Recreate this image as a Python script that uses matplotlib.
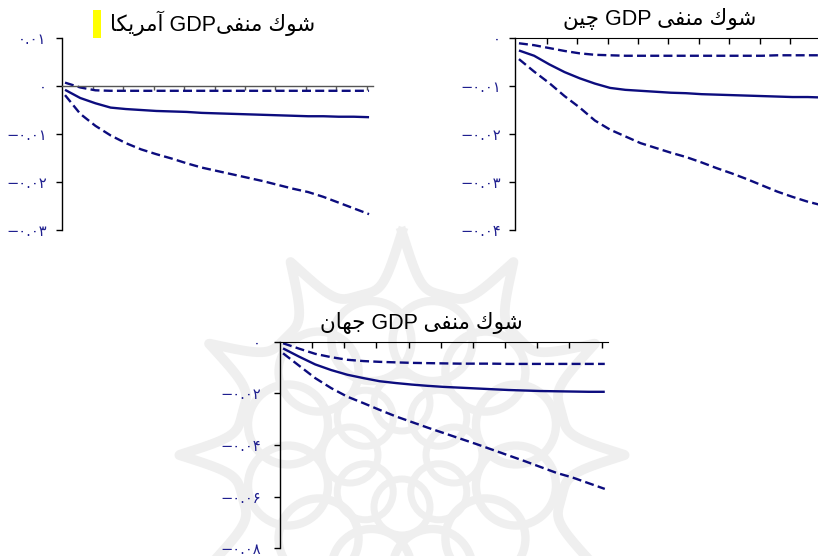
import numpy as np
import matplotlib
matplotlib.use("Agg")
import matplotlib.pyplot as plt
from matplotlib.patches import Rectangle, Circle

# ---------------- data ----------------
periods = list(range(1, 22))

us_upper = [0.0007, -0.0003, -0.0009, -0.0010, -0.0010, -0.0010, -0.0010, -0.0010, -0.0010, -0.0010,
            -0.0010, -0.0010, -0.0010, -0.0010, -0.0010, -0.0010, -0.0010, -0.0010, -0.0010, -0.0010, -0.0010]
us_mid = [-0.0008, -0.0025, -0.0036, -0.0045, -0.0048, -0.0050, -0.0052, -0.0053, -0.0054, -0.0056,
          -0.0057, -0.0058, -0.0059, -0.0060, -0.0061, -0.0062, -0.0063, -0.0063, -0.0064, -0.0064, -0.0065]
us_lower = [-0.0019, -0.0058, -0.0083, -0.0103, -0.0119, -0.0132, -0.0142, -0.0151, -0.0161, -0.0170,
            -0.0177, -0.0184, -0.0191, -0.0198, -0.0206, -0.0214, -0.0221, -0.0231, -0.0243, -0.0255, -0.0267]

cn_upper = [-0.0011, -0.0015, -0.0021, -0.0027, -0.0032, -0.0035, -0.0036, -0.0037, -0.0037, -0.0037,
            -0.0037, -0.0037, -0.0037, -0.0037, -0.0037, -0.0037, -0.0037, -0.0036, -0.0036, -0.0036, -0.0036]
cn_mid = [-0.0026, -0.0037, -0.0055, -0.0071, -0.0084, -0.0095, -0.0104, -0.0108, -0.0110, -0.0112,
          -0.0114, -0.0115, -0.0117, -0.0118, -0.0119, -0.0120, -0.0121, -0.0122, -0.0123, -0.0123, -0.0124]
cn_lower = [-0.0044, -0.0070, -0.0094, -0.0121, -0.0145, -0.0172, -0.0191, -0.0205, -0.0219, -0.0229,
            -0.0239, -0.0248, -0.0259, -0.0271, -0.0282, -0.0294, -0.0307, -0.0320, -0.0331, -0.0341, -0.0349]

wd_upper = [-0.0006, -0.0027, -0.0047, -0.0060, -0.0070, -0.0075, -0.0078, -0.0080, -0.0082, -0.0083,
            -0.0084, -0.0085, -0.0085, -0.0085, -0.0086, -0.0086, -0.0086, -0.0086, -0.0086, -0.0086, -0.0086]
wd_mid = [-0.0026, -0.0058, -0.0088, -0.0110, -0.0128, -0.0141, -0.0153, -0.0160, -0.0166, -0.0171,
          -0.0175, -0.0178, -0.0181, -0.0184, -0.0187, -0.0189, -0.0191, -0.0192, -0.0193, -0.0194, -0.0194]
wd_lower = [-0.0045, -0.0093, -0.0141, -0.0180, -0.0213, -0.0238, -0.0264, -0.0289, -0.0311, -0.0333,
            -0.0354, -0.0375, -0.0396, -0.0418, -0.0440, -0.0462, -0.0485, -0.0508, -0.0526, -0.0548, -0.0570]

# Persian tick labels
us_ticks = [0.01, 0.0, -0.01, -0.02, -0.03]
us_labels = ["۰.۰۱", "۰", "−۰.۰۱", "−۰.۰۲", "−۰.۰۳"]
cn_ticks = [0.0, -0.01, -0.02, -0.03, -0.04]
cn_labels = ["۰", "−۰.۰۱", "−۰.۰۲", "−۰.۰۳", "−۰.۰۴"]
wd_ticks = [0.0, -0.02, -0.04, -0.06, -0.08]
wd_labels = ["۰", "−۰.۰۲", "−۰.۰۴", "−۰.۰۶", "−۰.۰۸"]

# Titles in visual order with Arabic presentation forms (no shaping engine available)
t_shok = "\uFED9\uFEEE\uFEB7"            # شوک
t_manfi = "\uFEF0\uFED4\uFEE8\uFEE3"     # منفی
t_amrika = "\uFE8E\uFEDC\uFEF3\uFEAE\uFEE3\uFE81"  # آمریکا
t_chin = "\uFEE6\uFEF4\uFB7C"            # چین
t_jahan = "\uFEE5\uFE8E\uFEEC\uFE9F"     # جهان
us_title = t_amrika + " GDP" + t_manfi + " " + t_shok
cn_title = t_chin + " GDP " + t_manfi + " " + t_shok
wd_title = t_jahan + " GDP " + t_manfi + " " + t_shok

# ---------------- figure ----------------
W, H = 818, 556
fig = plt.figure(figsize=(W / 100, H / 100), dpi=100)
fig.patch.set_facecolor("white")

NAVY = "#0c0c7e"
LBL = "#1f1f8f"

# faint background ornament (watermark)
bg = fig.add_axes([0, 0, 1, 1], zorder=-5)
bg.set_xlim(0, W)
bg.set_ylim(H, 0)
bg.axis("off")
cx, cy = 402, 455
wm = "#efefef"
ang = np.linspace(0, 2 * np.pi, 3000)
r_star = 165 + 58 * (1 - np.abs(np.sin(ang * 6))) ** 2
bg.plot(cx + r_star * np.cos(ang - np.pi / 2), cy + r_star * np.sin(ang - np.pi / 2), color=wm, lw=7)
for k in range(12):
    a = 2 * np.pi * k / 12 + np.pi / 12
    bg.add_patch(Circle((cx + 118 * np.cos(a), cy + 118 * np.sin(a)), 40, fill=False, ec=wm, lw=6))
for k in range(8):
    a = 2 * np.pi * k / 8
    bg.add_patch(Circle((cx + 52 * np.cos(a), cy + 52 * np.sin(a)), 28, fill=False, ec=wm, lw=5))


def px_axes(x0, x1, y0, y1):
    return fig.add_axes([x0 / W, 1 - y1 / H, (x1 - x0) / W, (y1 - y0) / H])


def style_y(ax, ticks, labels, pad):
    ax.set_yticks(ticks)
    ax.set_yticklabels(labels, family=["DejaVu Sans"], fontsize=10.5, color=LBL)
    ax.tick_params(axis="y", direction="out", length=4, width=1, color="black", pad=pad)
    ax.spines["left"].set_color("black")
    ax.spines["left"].set_linewidth(1)


def draw_lines(ax, up, mid, lo):
    ax.plot(periods, mid, color=NAVY, lw=1.7, solid_capstyle="butt")
    ax.plot(periods, up, color=NAVY, lw=1.7, dashes=(3.8, 1.8))
    ax.plot(periods, lo, color=NAVY, lw=1.7, dashes=(3.8, 1.8))


title_font = dict(family=["Liberation Sans", "DejaVu Sans"], fontsize=15.5, color="black")

# --- USA ---
ax1 = px_axes(62, 373, 38, 230)
ax1.patch.set_alpha(0)
ax1.set_xlim(0.8, 21.26)
ax1.set_ylim(-0.03, 0.01)
for s in ["top", "right"]:
    ax1.spines[s].set_visible(False)
ax1.spines["bottom"].set_position(("data", 0))
ax1.spines["bottom"].set_color("#555555")
ax1.spines["bottom"].set_linewidth(1)
ax1.set_xticks(np.arange(10) * 2 + 2.84)
ax1.set_xticklabels([])
ax1.tick_params(axis="x", direction="out", length=3, width=1, color="#555555")
style_y(ax1, us_ticks, us_labels, 7)
draw_lines(ax1, us_upper, us_mid, us_lower)
fig.text(315 / W, 1 - 23 / H, us_title, ha="right", va="center", **title_font)
fig.patches.append(Rectangle((93 / W, 1 - 38 / H), 8 / W, 28 / H, transform=fig.transFigure,
                             facecolor="#ffff00", edgecolor="none"))

# --- China ---
ax2 = px_axes(515, 832, 38, 230)
ax2.patch.set_alpha(0)
ax2.set_xlim(0.74, 21.6)
ax2.set_ylim(-0.04, 0.0)
for s in ["bottom", "right"]:
    ax2.spines[s].set_visible(False)
ax2.spines["top"].set_color("black")
ax2.xaxis.set_ticks_position("top")
ax2.set_xticks(np.arange(10) * 2 + 2.84)
ax2.set_xticklabels([])
ax2.tick_params(axis="x", direction="in", length=4, width=1, color="black")
style_y(ax2, cn_ticks, cn_labels, 6)
draw_lines(ax2, cn_upper, cn_mid, cn_lower)
fig.text(660 / W, 1 - 19 / H, cn_title, ha="center", va="center", **title_font)

# --- World ---
ax3 = px_axes(280, 608, 341.7, 548.3)
ax3.patch.set_alpha(0)
ax3.set_xlim(0.81, 21.2)
ax3.set_ylim(-0.08, 0.0)
for s in ["bottom", "right"]:
    ax3.spines[s].set_visible(False)
ax3.spines["top"].set_color("black")
ax3.xaxis.set_ticks_position("top")
ax3.set_xticks(np.arange(10) * 2 + 2.8)
ax3.set_xticklabels([])
ax3.tick_params(axis="x", direction="in", length=4, width=1, color="black")
style_y(ax3, wd_ticks, wd_labels, 9.5)
draw_lines(ax3, wd_upper, wd_mid, wd_lower)
fig.text(421 / W, 1 - 323 / H, wd_title, ha="center", va="center", **title_font)

fig.savefig("out.png", dpi=100, facecolor="white")
